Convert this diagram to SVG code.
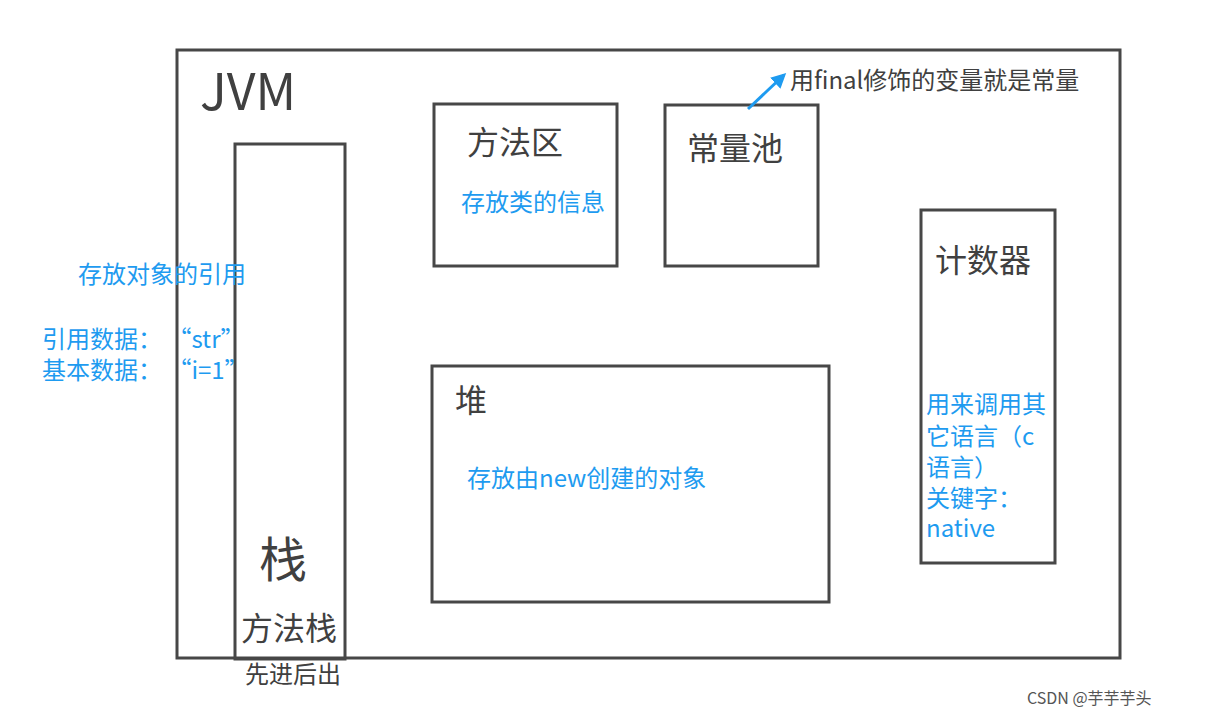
<svg xmlns="http://www.w3.org/2000/svg" width="1205" height="717" viewBox="0 0 1205 717">
<style>
.b{fill:none;stroke:#474747;stroke-width:3}
.d{fill:#404040;font-family:"Noto Sans CJK SC","Noto Sans",sans-serif}
.c{fill:#1e9bf0;font-family:"Noto Sans CJK SC","Noto Sans",sans-serif;font-size:24px}
</style>
<defs><marker id="a" viewBox="0 0 10 10" refX="8" refY="5" markerWidth="5" markerHeight="5" orient="auto"><path d="M0,0L10,5L0,10z" fill="#1e9bf0"/></marker></defs>
<rect width="1205" height="717" fill="#fff"/>
<g id="jvm"><rect class="b" x="177" y="50" width="943" height="608"/><text class="d" x="200" y="110" font-size="50">JVM</text></g>
<g id="stack"><rect class="b" x="235" y="144" width="110" height="515"/>
<text class="d" x="259" y="577" font-size="48">栈</text>
<text class="d" x="241" y="640" font-size="32">方法栈</text>
<text class="d" x="245" y="683" font-size="24">先进后出</text>
<text class="c" x="78" y="283">存放对象的引用</text>
<text class="c" x="42" y="348">引用数据：   “str”</text>
<text class="c" x="42" y="379">基本数据：   “i=1”</text></g>
<g id="method"><rect class="b" x="434" y="104" width="183" height="162"/>
<text class="d" x="467" y="154" font-size="32">方法区</text>
<text class="c" x="461" y="211">存放类的信息</text></g>
<g id="pool"><rect class="b" x="665" y="105" width="153" height="161"/>
<text class="d" x="687" y="160" font-size="32">常量池</text></g>
<g id="heap"><rect class="b" x="432" y="366" width="397" height="236"/>
<text class="d" x="455" y="412" font-size="32">堆</text>
<text class="c" x="467" y="487">存放由new创建的对象</text></g>
<g id="counter"><rect class="b" x="921" y="210" width="134" height="353"/>
<text class="d" x="935" y="272" font-size="32">计数器</text>
<text class="c" x="926" y="413">用来调用其</text>
<text class="c" x="926" y="445">它语言（c</text>
<text class="c" x="926" y="476">语言）</text>
<text class="c" x="926" y="507">关键字：</text>
<text class="c" x="926" y="537">native</text></g>
<g id="connectors"><line x1="748" y1="109" x2="784" y2="75" stroke="#1e9bf0" stroke-width="3" marker-end="url(#a)"/></g>
<text class="d" x="790" y="89" font-size="24">用final修饰的变量就是常量</text>
<text x="1027" y="704" font-size="16" fill="#555" font-family="Noto Sans CJK SC,sans-serif">CSDN @芋芋芋头</text>
</svg>
